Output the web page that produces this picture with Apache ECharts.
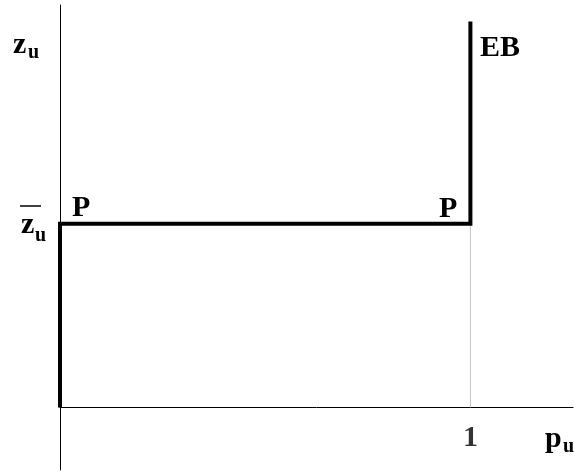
<!DOCTYPE html>
<html>
<head>
<meta charset="utf-8">
<script src="https://cdn.jsdelivr.net/npm/echarts@6/dist/echarts.min.js"></script>
<style>html,body{margin:0;padding:0;background:#fff}#c{width:574px;height:472px}</style>
</head>
<body>
<div id="c"></div>
<script>
// Data
var pathX = [0, 0, 1, 1];
var pathY = [0, 1, 1, 2.1];
var dropX = [1, 1];
var dropY = [0, 1];
var xTickValues = [1];
var xTickLabels = ['1'];
var pointLabels = ['P', 'P', 'EB'];

var FONT = '"Liberation Serif", "Times New Roman", serif';
var chart = echarts.init(document.getElementById('c'), null, {renderer: 'canvas'});

function pairs(xs, ys) { return xs.map(function (x, i) { return [x, ys[i]]; }); }

function txt(text, x, y, size) {
  return {type: 'text', x: x, y: y, silent: true,
    style: {text: text, fill: '#000', font: 'bold ' + size + 'px ' + FONT, textAlign: 'left', textVerticalAlign: 'middle'}};
}

chart.setOption({
  animation: false,
  backgroundColor: '#fff',
  grid: {left: 60, right: 1, top: 5, height: 465, containLabel: false, outerBoundsMode: 'none'},
  xAxis: {
    type: 'value', min: 0, max: 1.25, interval: 1,
    axisLine: {show: true, onZero: true, lineStyle: {color: '#000', width: 1}},
    axisTick: {show: false},
    splitLine: {show: false},
    axisLabel: {show: false}
  },
  yAxis: {
    type: 'value', min: -0.34, max: 2.19,
    axisLine: {show: true, onZero: false, lineStyle: {color: '#000', width: 1}},
    axisTick: {show: false},
    splitLine: {show: false},
    axisLabel: {show: false}
  },
  series: [
    {type: 'line', data: pairs(dropX, dropY), symbol: 'none', z: 1,
      lineStyle: {color: '#888', width: 1, type: [1, 1]}},
    {type: 'line', data: pairs(pathX, pathY), symbol: 'none', z: 3,
      lineStyle: {color: '#000', width: 4, join: 'miter', cap: 'butt'}},
    {type: 'scatter', symbolSize: 1, itemStyle: {color: 'rgba(0,0,0,0)'}, z: 4, silent: true,
      data: xTickValues.map(function (v) { return [v, 0]; }),
      label: {show: true, position: 'bottom', distance: 15, color: '#000', fontSize: 30, fontWeight: 'bold', fontFamily: FONT,
        formatter: function (p) { return xTickLabels[p.dataIndex]; }}}
  ],
  graphic: [
    txt('z', 13, 45, 30), txt('u', 28, 53, 20),
    txt('z', 21, 225, 30), txt('u', 35, 236, 20),
    {type: 'line', silent: true, shape: {x1: 20, y1: 206, x2: 41, y2: 206}, style: {stroke: '#000', lineWidth: 1.5}},
    txt(pointLabels[0], 72, 208, 30),
    txt(pointLabels[1], 439, 209, 30),
    txt(pointLabels[2], 480, 48, 30),
    txt('p', 545, 439, 30), txt('u', 563, 447, 20)
  ]
});
</script>
</body>
</html>
